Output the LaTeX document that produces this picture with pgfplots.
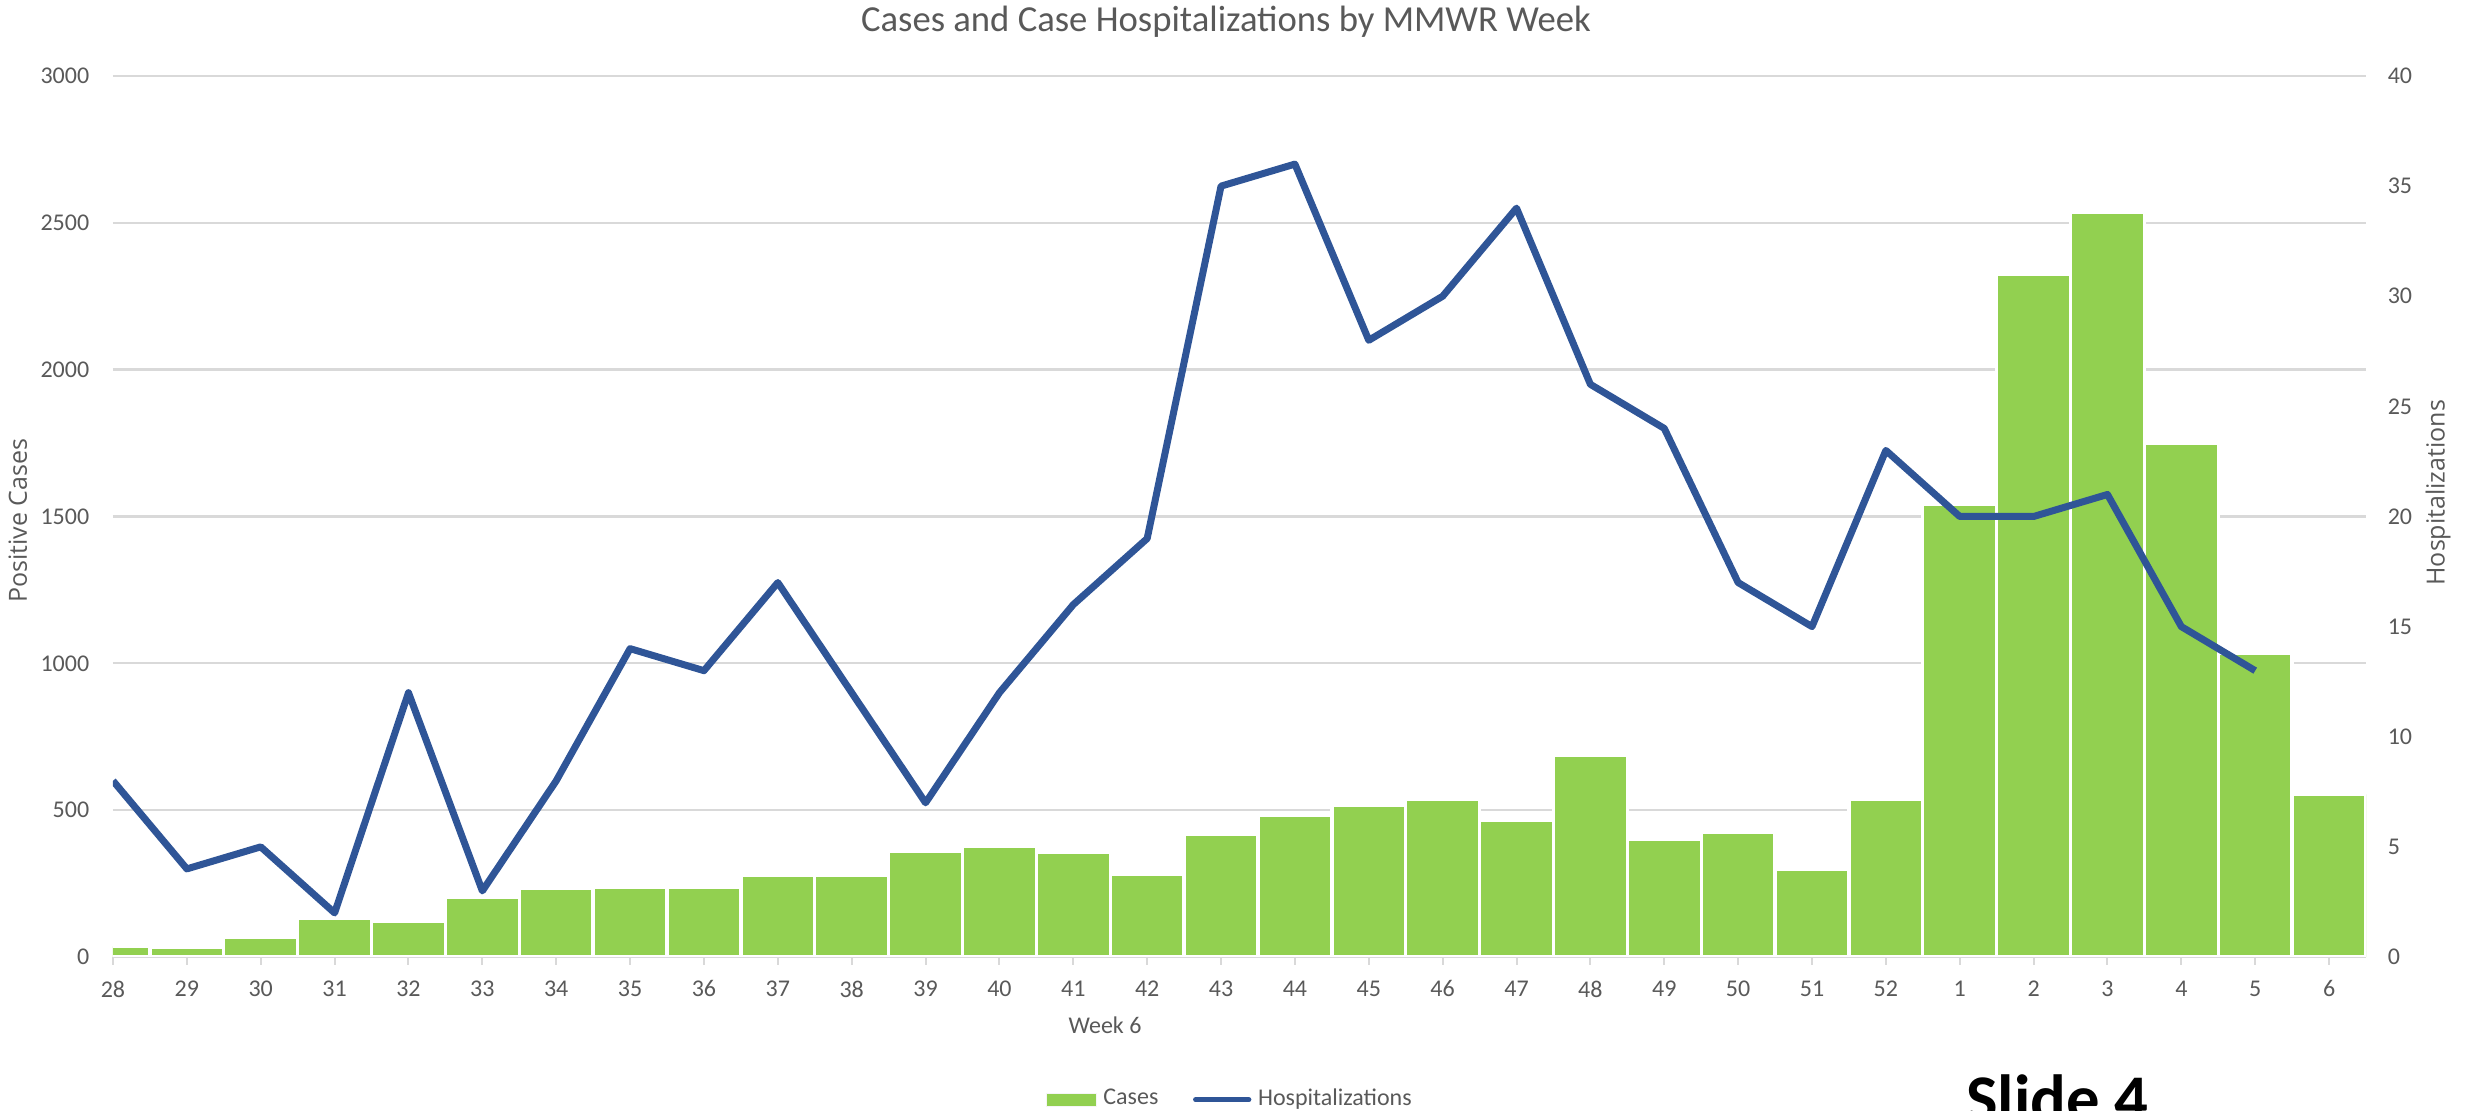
\documentclass[border=0pt]{standalone}
\usepackage{pgfplots}
\pgfplotsset{compat=1.18}
\usepackage{pgfplotstable}
\usepackage{fontspec}
\setmainfont{Carlito}
\newfontfamily\labelfont{Open Sans}
\definecolor{cgreen}{HTML}{92D050}
\definecolor{cblue}{HTML}{2F5597}
\definecolor{tgray}{HTML}{595959}
\definecolor{ggray}{HTML}{D9D9D9}

\pgfplotstableread{
x cases
0 36
1 32
2 67
3 130
4 122
5 203
6 233
7 237
8 238
9 278
10 278
11 359
12 376
13 355
14 281
15 418
16 481
17 518
18 536
19 466
20 685
21 401
22 426
23 297
24 538
25 1540
26 2326
27 2534
28 1750
29 1033
30 554
}\casestable

\pgfplotstableread{
x hosp
0 8
1 4
2 5
3 2
4 12
5 3
6 8
7 14
8 13
9 17
10 12
11 7
12 12
13 16
14 19
15 35
16 36
17 28
18 30
19 34
20 26
21 24
22 17
23 15
24 23
25 20
26 20
27 21
28 15
29 13
}\hosptable

\begin{document}
\begin{tikzpicture}
\pgfplotsset{
  common/.style={
    width=675.9pt, height=264.3pt, scale only axis,
    xmin=0, xmax=30.5,
    at={(0pt,0pt)}, anchor=south west,
    tick label style={font=\fontsize{7.2}{8}\selectfont, text=tgray},
    /pgf/number format/assume math mode=true,
    /pgf/number format/1000 sep={},
  }
}
\begin{axis}[
  common,
  ymin=0, ymax=3000,
  ytick={0,500,...,3000},
  ymajorgrids,
  grid style={ggray, line width=0.7pt},
  axis x line*=bottom,
  axis y line*=left,
  x axis line style={-, draw=ggray, line width=0.8pt},
  y axis line style={draw=none},
  xtick={0,...,30},
  xticklabels={28,29,30,31,32,33,34,35,36,37,38,39,40,41,42,43,44,45,46,47,48,49,50,51,52,1,2,3,4,5,6},
  x tick style={draw=ggray, line width=0.6pt},
  tick align=outside,
  xtick pos=bottom,
  major tick length=2.4pt,
  y tick style={draw=none},
  yticklabel style={xshift=-1.2pt},
  xticklabel style={yshift=-1.2pt},
  every axis title shift=0pt,
  title={Cases and Case Hospitalizations by MMWR Week},
  title style={at={(axis description cs:0.494,1.0613)}, anchor=center, font=\fontsize{11}{12}\selectfont, text=tgray},
  every axis x label/.style={at={(axis description cs:0.4403,-0.0772)}, anchor=center, font=\fontsize{7.2}{8}\selectfont, text=tgray},
  xlabel={Week 6},
  every axis y label/.style={at={(axis description cs:-0.0422,0.495)}, rotate=90, anchor=center, font=\labelfont\fontsize{7.5}{9}\selectfont, text=tgray},
  ylabel={Positive Cases},
]
\addplot[ybar, bar width=1, bar shift=0pt, fill=cgreen, draw=white, line width=1pt] table[x=x, y=cases] {\casestable};
\end{axis}
\begin{axis}[
  common,
  ymin=0, ymax=40,
  ytick={0,5,...,40},
  axis x line=none,
  axis y line*=right,
  y axis line style={draw=none},
  major tick length=0pt,
  y tick style={draw=none},
  yticklabel style={xshift=3pt},
  every axis y label/.style={at={(axis description cs:1.032,0.527)}, rotate=90, anchor=center, font=\labelfont\fontsize{7.5}{9}\selectfont, text=tgray},
  ylabel={Hospitalizations},
  legend columns=2,
  legend style={at={(axis description cs:0.4967,-0.162)}, anchor=center, draw=none, fill=none,
    font=\fontsize{7.2}{8}\selectfont, text=tgray,
    /tikz/every even column/.append style={column sep=8.4pt}},
  legend cell align=left,
]
\addlegendimage{legend image code/.code={\draw[fill=cgreen, draw=white!92!gray, line width=0.3pt] (0pt,-2pt) rectangle (15pt,2pt);}}
\addlegendentry{Cases}
\addplot[cblue, line width=2.1pt, line join=round, mark=none,
  legend image code/.code={\draw[cblue, line width=1.5pt, line cap=round] (0pt,0pt) -- (16pt,0pt);}]
  table[x=x, y=hosp] {\hosptable};
\addlegendentry{Hospitalizations}
\end{axis}
\node[anchor=base west, font=\bfseries\fontsize{20}{22}\selectfont, text=black] at (552.4pt,-49.5pt) {Slide 4};
\pgfresetboundingbox
\path[use as bounding box] (-33.9pt,-46.2pt) rectangle (706.8pt,287.1pt);
\end{tikzpicture}
\end{document}
